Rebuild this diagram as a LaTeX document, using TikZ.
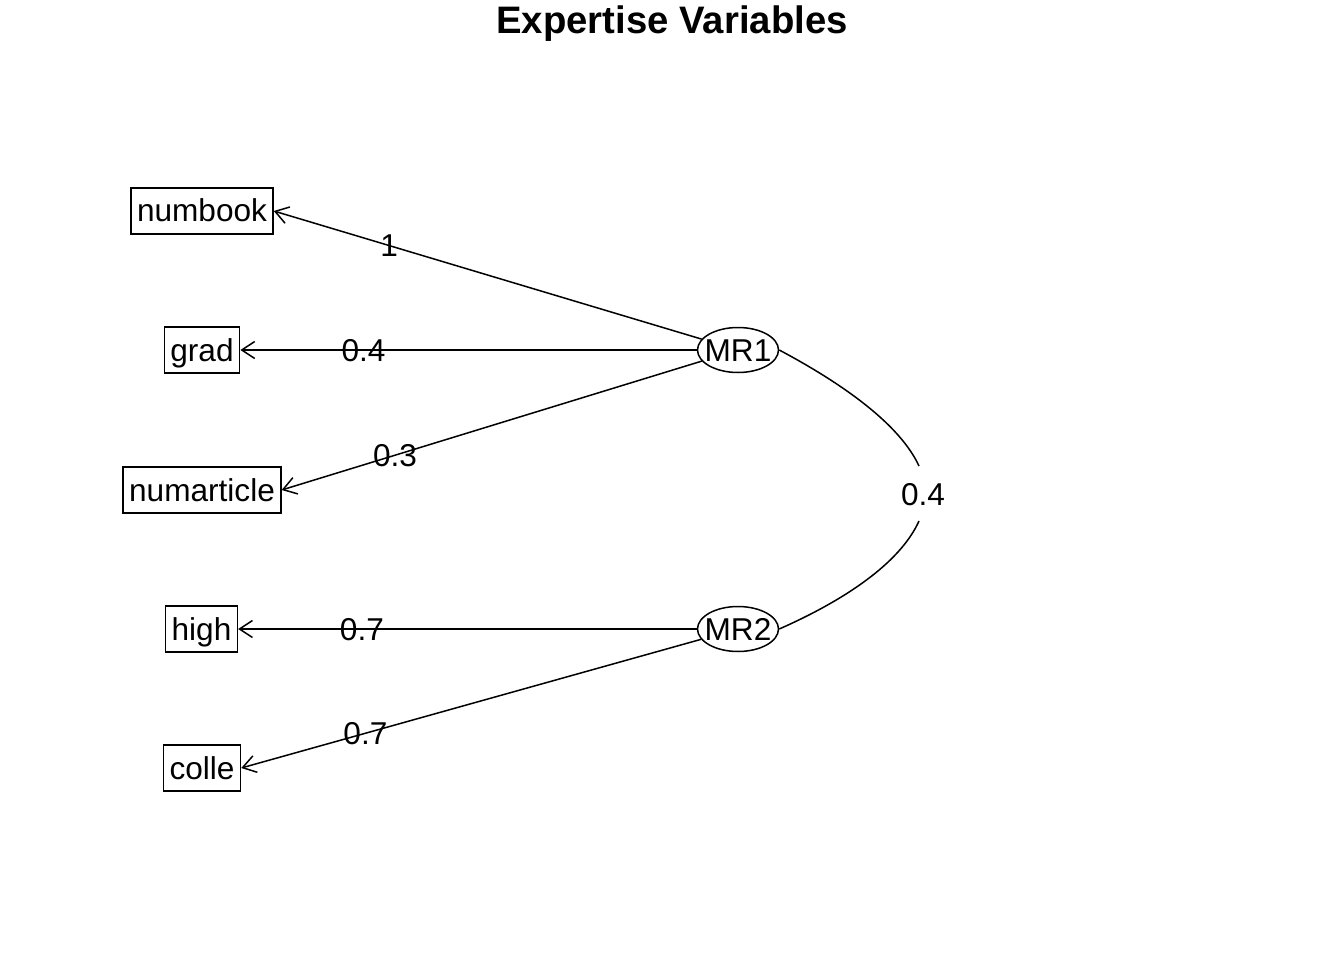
\documentclass[tikz,border=0pt]{standalone}
\usepackage{fontspec}
\setmainfont{Liberation Sans}
\usetikzlibrary{shapes.geometric,arrows.meta}
\begin{document}
\begin{tikzpicture}[x=1pt,y=-1pt,
  every node/.style={font=\fontsize{31.6}{36}\selectfont},
  var/.style={draw,line width=1.5pt,rectangle,minimum height=46pt,inner xsep=6pt,inner ysep=0pt,text height=26pt,text depth=4pt},
  fac/.style={draw,line width=1.5pt,ellipse,minimum width=81pt,minimum height=45pt,inner sep=0pt},
  arr/.style={line width=1.5pt,-{Straight Barb[length=13pt,width=17pt,line width=1.5pt]}},
  lab/.style={inner sep=0pt,text height=26pt,text depth=4pt},
  conn/.style={line width=1.5pt}]
\useasboundingbox (0,0) rectangle (1344,960);
\node[font=\fontsize{38.3}{44}\selectfont\bfseries] (title) at (672,24) {Expertise Variables};
\node[var] (numbook) at (202,211) {numbook};
\node[var] (grad) at (202,350) {grad};
\node[var] (numarticle) at (202,490) {numarticle};
\node[var] (high) at (201.5,629) {high};
\node[var] (colle) at (202,768) {colle};
\node[fac] (mr1) at (738,350) {};
\node[lab] (mr1t) at (738,350) {MR1};
\node[fac] (mr2) at (738,629) {};
\node[lab] (mr2t) at (738,629) {MR2};
\draw[arr] (mr1) -- node[lab,pos=0.73] (l1) {1} (numbook.east);
\draw[arr] (mr1) -- node[lab,pos=0.73] (l2) {0.4} (grad.east);
\draw[arr] (mr1) -- node[lab,pos=0.73] (l3) {0.3} (numarticle.east);
\draw[arr] (mr2) -- node[lab,pos=0.73] (l4) {0.7} (high.east);
\draw[arr] (mr2) -- node[lab,pos=0.73] (l5) {0.7} (colle.east);
\coordinate (c1) at (919,466);
\coordinate (c2) at (919,521);
\node[lab] (r) at (923,494) {0.4};
\draw[conn] (mr1.east) .. controls (845,385) and (900,425) .. (c1);
\draw[conn] (c2) .. controls (900,563) and (845,600) .. (mr2.east);
\end{tikzpicture}
\end{document}
